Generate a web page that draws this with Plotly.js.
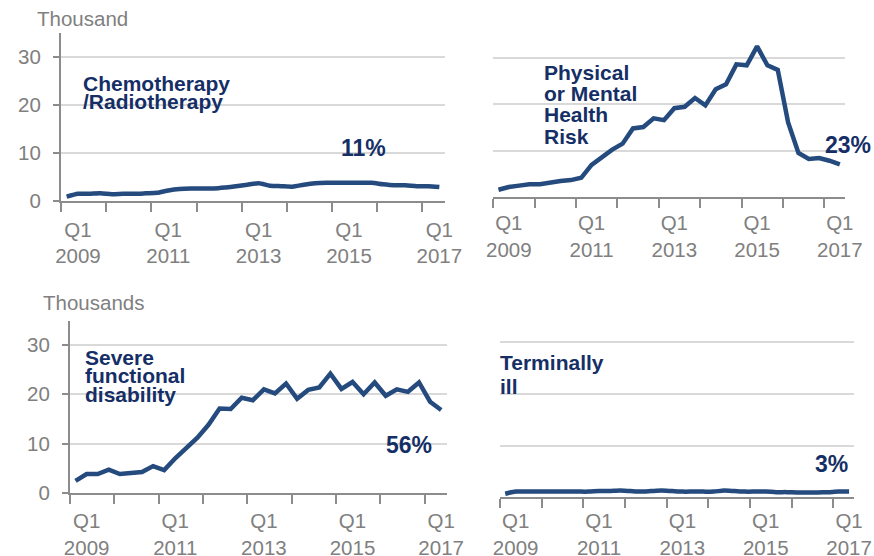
<!DOCTYPE html>
<html>
<head>
<meta charset="utf-8">
<script src="https://cdn.plot.ly/plotly-3.0.1.min.js"></script>
<style>
  html, body { margin: 0; padding: 0; background: #fff; }
  #chart { width: 874px; height: 556px; }
</style>
</head>
<body>
<div id="chart"></div>
<script>
// quarters, Q4 2008 .. Q1 2017
const quarters = [
  "Q4 2008",
  "Q1 2009", "Q2 2009", "Q3 2009", "Q4 2009",
  "Q1 2010", "Q2 2010", "Q3 2010", "Q4 2010",
  "Q1 2011", "Q2 2011", "Q3 2011", "Q4 2011",
  "Q1 2012", "Q2 2012", "Q3 2012", "Q4 2012",
  "Q1 2013", "Q2 2013", "Q3 2013", "Q4 2013",
  "Q1 2014", "Q2 2014", "Q3 2014", "Q4 2014",
  "Q1 2015", "Q2 2015", "Q3 2015", "Q4 2015",
  "Q1 2016", "Q2 2016", "Q3 2016", "Q4 2016",
  "Q1 2017"
];
const labelQuarters = ["Q1 2009", "Q1 2011", "Q1 2013", "Q1 2015", "Q1 2017"];

// thousands
const chemo = [0.9, 1.5, 1.5, 1.6, 1.4, 1.5, 1.5, 1.6, 1.7, 2.2, 2.5, 2.6, 2.6, 2.6, 2.8, 3.1, 3.4,
  3.7, 3.2, 3.1, 3.0, 3.4, 3.7, 3.8, 3.8, 3.8, 3.8, 3.8, 3.5, 3.3, 3.3, 3.1, 3.1, 2.9];
const physical = [1.5, 2.1, 2.4, 2.7, 2.7, 3.1, 3.4, 3.6, 4.1, 6.9, 8.7, 10.2, 11.5, 14.8, 15.1, 17.0, 16.6,
  19.2, 19.5, 21.4, 19.8, 23.3, 24.4, 28.7, 28.5, 32.6, 28.5, 27.5, 16.1, 9.5, 8.2, 8.4, 7.8, 7.0];
const severe = [2.4, 3.8, 3.8, 4.7, 3.8, 4.0, 4.2, 5.4, 4.6, 7.0, 9.0, 11.2, 13.8, 17.1, 17.0, 19.3, 18.8,
  21.0, 20.2, 22.2, 19.1, 20.9, 21.4, 24.2, 21.1, 22.5, 20.0, 22.4, 19.7, 21.0, 20.5, 22.4, 18.5, 16.8];
const terminal = [0.7, 1.1, 1.1, 1.1, 1.1, 1.1, 1.1, 1.1, 1.1, 1.2, 1.2, 1.3, 1.2, 1.1, 1.2, 1.3, 1.2,
  1.1, 1.1, 1.1, 1.1, 1.3, 1.2, 1.1, 1.1, 1.1, 1.0, 1.0, 0.95, 0.95, 0.95, 1.0, 1.1, 1.1];

const panelNames = [["Chemotherapy", "/Radiotherapy"], ["Physical", "or Mental", "Health", "Risk"],
  ["Severe", "functional", "disability"], ["Terminally", "ill"]];
const shares = ["11%", "23%", "56%", "3%"];
const yTicks = [0, 10, 20, 30];

const W = 874, H = 556;
const FONT = "Liberation Sans, Arial, sans-serif";
const GREY = "#808080";
const NAVY = "#152f66";
const LINE = "#244a7e";

const px = (x) => x / W;
const py = (y) => 1 - y / H;

// pixel boxes of the four plots: [left, right, top, bottom]
const boxes = [
  [61, 445, 33.3, 201],
  [493.3, 845, 35.3, 196.7],
  [70, 446.7, 320.5, 492.7],
  [500, 854.3, 316.4, 497.3]
];
// gap between axis and date labels, per panel
const labelGap = [9, 7, 9, 4];

const xs = quarters.map((q, i) => i);
const yearMarks = [];
for (let i = 0; i < quarters.length; i += 4) yearMarks.push(i - 0.5);

const series = [chemo, physical, severe, terminal];
const data = series.map((vals, k) => ({
  type: "scatter",
  mode: "lines",
  x: xs,
  y: vals,
  xaxis: "x" + (k + 1),
  yaxis: "y" + (k + 1),
  line: {
    color: LINE,
    width: 4.5,
    shape: (k === 0 || k === 3) ? "spline" : "linear",
    smoothing: 0.6
  },
  hoverinfo: "skip"
}));

const layout = {
  width: W,
  height: H,
  margin: { l: 0, r: 0, t: 0, b: 0 },
  paper_bgcolor: "#fff",
  plot_bgcolor: "#fff",
  showlegend: false,
  font: { family: FONT, color: GREY, size: 20 },
  annotations: []
};

boxes.forEach((b, k) => {
  const n = k + 1;
  const left = k % 2 === 0;
  layout["xaxis" + n] = {
    domain: [px(b[0]), px(b[1])],
    anchor: "y" + n,
    range: [-0.5, quarters.length - 0.5],
    showline: true,
    linecolor: "#8c8c8c",
    linewidth: 2,
    showgrid: false,
    zeroline: false,
    tickmode: "array",
    tickvals: labelQuarters.map((q) => quarters.indexOf(q)),
    ticktext: labelQuarters.map((q) => q.replace(" ", "<br>")),
    ticks: "",
    ticklabelstandoff: labelGap[k],
    tickfont: { family: FONT, size: 20.5, color: GREY },
    minor: {
      tickmode: "array",
      tickvals: yearMarks,
      ticks: "outside",
      ticklen: 9,
      tickwidth: 2,
      tickcolor: "#8c8c8c",
      showgrid: false
    },
    fixedrange: true
  };
  layout["yaxis" + n] = {
    domain: [py(b[3]), py(b[2])],
    anchor: "x" + n,
    range: [0, 35],
    showline: left,
    linecolor: "#8c8c8c",
    linewidth: 2,
    showgrid: true,
    gridcolor: "#d9d9d9",
    gridwidth: 2,
    zeroline: false,
    tickmode: "array",
    tickvals: yTicks,
    ticks: left ? "outside" : "",
    ticklen: 6,
    tickwidth: 2,
    tickcolor: "#8c8c8c",
    showticklabels: left,
    ticklabelstandoff: 8,
    tickfont: { family: FONT, size: 20.5, color: GREY },
    fixedrange: true
  };
});

// unit titles
layout.annotations.push(
  { xref: "paper", yref: "paper", x: px(35), y: py(18), xanchor: "left", yanchor: "middle",
    text: "Thousand", showarrow: false, font: { family: FONT, size: 20.5, color: GREY } },
  { xref: "paper", yref: "paper", x: px(41), y: py(302), xanchor: "left", yanchor: "middle",
    text: "Thousands", showarrow: false, font: { family: FONT, size: 20.5, color: GREY } }
);

// panel names, one annotation per line: [left x, first baseline, line step]
const namePos = [[82, 90.7, 18.6], [543, 80, 21.1], [84, 364.3, 18.7], [499, 370, 24]];
panelNames.forEach((lines, k) => {
  const p = namePos[k];
  lines.forEach((t, j) => {
    layout.annotations.push({
      xref: "paper", yref: "paper",
      x: px(p[0]), y: py(p[1] + j * p[2] - 7.3),
      xanchor: "left", yanchor: "middle",
      borderpad: 0,
      text: "<b>" + t + "</b>", showarrow: false,
      font: { family: FONT, size: 21, color: NAVY }
    });
  });
});

// share labels: [centre x, centre y]
const sharePos = [[363.3, 148], [848, 145], [409, 445], [831, 463.7]];
shares.forEach((t, k) => {
  layout.annotations.push({
    xref: "paper", yref: "paper",
    x: px(sharePos[k][0]), y: py(sharePos[k][1]),
    xanchor: "center", yanchor: "middle",
    text: "<b>" + t + "</b>", showarrow: false,
    font: { family: FONT, size: 23, color: NAVY }
  });
});

Plotly.newPlot("chart", data, layout, { staticPlot: true, displayModeBar: false });
</script>
</body>
</html>
